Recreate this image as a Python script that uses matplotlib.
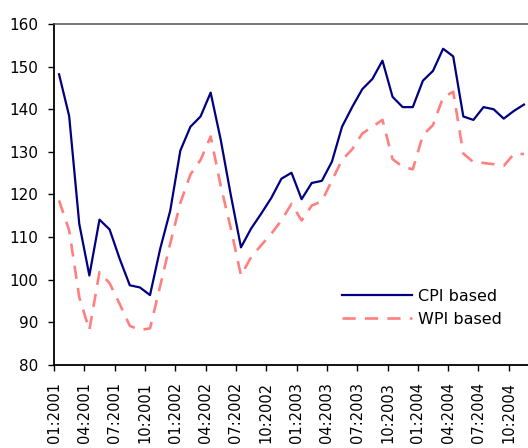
import numpy as np
import matplotlib
matplotlib.use("Agg")
import matplotlib.pyplot as plt

# monthly real exchange rate indices, Jan 2001 onwards
MONTHS = 47
CPI_BASED = [148.2, 138.4, 113.1, 101.0, 114.1, 111.8, 104.9, 98.7, 98.2, 96.4,
             107.2, 116.2, 130.3, 135.9, 138.3, 143.9, 132.8, 119.8, 107.6, 112.0,
             115.5, 119.2, 123.7, 125.1, 118.9, 122.7, 123.2, 127.7, 135.9, 140.5,
             144.7, 147.1, 151.4, 142.9, 140.5, 140.5, 146.7, 149.0, 154.2, 152.4,
             138.3, 137.5, 140.5, 140.0, 137.8, 139.6, 141.1]
WPI_BASED = [118.6, 111.6, 95.9, 88.2, 101.8, 99.2, 94.3, 89.2, 88.2, 88.6,
             98.5, 108.5, 118.0, 124.7, 128.1, 133.6, 122.0, 112.0, 101.0, 105.3,
             108.1, 110.8, 113.9, 117.8, 113.9, 117.4, 118.4, 123.3, 128.1, 130.6,
             134.3, 135.9, 137.5, 128.3, 126.5, 125.9, 133.9, 136.3, 142.8, 144.1,
             129.6, 127.6, 127.4, 127.1, 126.7, 129.5, 129.5]
TICK_LABELS = ["01:2001", "04:2001", "07:2001", "10:2001",
               "01:2002", "04:2002", "07:2002", "10:2002",
               "01:2003", "04:2003", "07:2003", "10:2003",
               "01:2004", "04:2004", "07:2004", "10:2004"]

plt.rcParams["font.family"] = "DejaVu Sans"

fig = plt.figure(figsize=(5.28, 4.48), dpi=100)
ax = fig.add_axes([54 / 528, 1 - 365 / 448, 1 - 54 / 528, 341 / 448])

x = np.arange(MONTHS) + 0.5
ax.plot(x, CPI_BASED, color="#000080", lw=1.6, label="CPI based")
ax.plot(x, WPI_BASED, color="#FF8080", lw=1.9, dashes=(5, 3.5), label="WPI based")

ax.set_xlim(0, 46.9)
ax.set_ylim(80, 160)
ax.set_yticks(np.arange(80, 161, 10))
ax.set_xticks(np.arange(0, 3 * len(TICK_LABELS), 3))
ax.set_xticklabels(TICK_LABELS, rotation=90, fontsize=10.5)
ax.tick_params(axis="y", labelsize=11, length=4.5, width=1, direction="out", pad=7)
ax.tick_params(axis="x", length=4, width=1, direction="out", pad=8)

ax.spines["right"].set_visible(False)
ax.spines["top"].set_color("#505050")
ax.spines["top"].set_linewidth(1.1)
for s in ("left", "bottom"):
    ax.spines[s].set_color("black")
    ax.spines[s].set_linewidth(1.3)

ax.legend(loc="upper left", bbox_to_anchor=(342 / 528, 1 - 289 / 448),
          bbox_transform=fig.transFigure, frameon=False, fontsize=11.5,
          handlelength=4.4, handletextpad=0.35, labelspacing=0.5,
          borderpad=0, borderaxespad=0)

fig.savefig("out.png", dpi=100)
plt.close(fig)
